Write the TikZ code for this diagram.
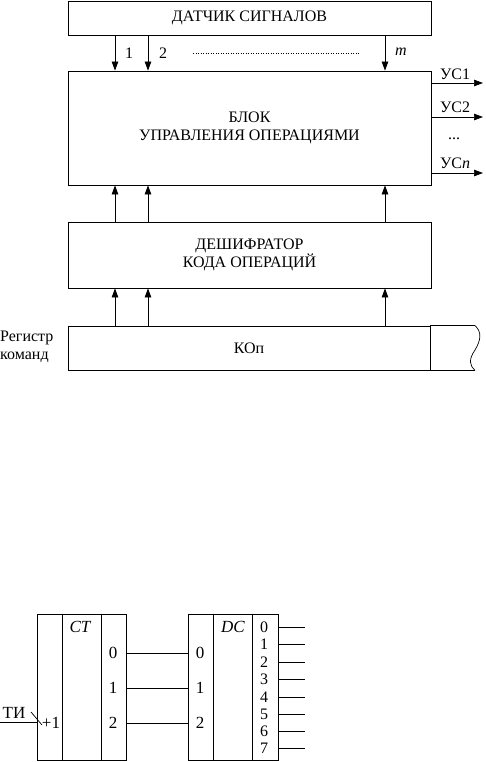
\documentclass[tikz,border=0pt]{standalone}
\usepackage{fontspec}
\setmainfont{Liberation Serif}
\usetikzlibrary{arrows.meta,calc}
\begin{document}
\begin{tikzpicture}[x=1pt,y=1pt,
  box/.style={draw,line width=0.8pt,inner sep=0pt,align=center,font=\fontsize{16}{18}\selectfont},
  arr/.style={line width=0.7pt,-{Triangle[length=9pt,width=6.5pt]}},
  ln/.style={line width=0.7pt},
  lbl/.style={inner sep=0pt,font=\fontsize{16}{18}\selectfont},
  big/.style={inner sep=0pt,font=\fontsize{17}{19}\selectfont},
  mid/.style={inner sep=0pt,font=\fontsize{16}{18}\selectfont}]
\useasboundingbox (0,0) rectangle (485,-762);
% top block
\node[box,minimum width=363pt,minimum height=34pt] (ds) at (249.5,-18) {ДАТЧИК СИГНАЛОВ};
\node[box,minimum width=363pt,minimum height=114pt] (bl) at (249.5,-128) {БЛОК\\УПРАВЛЕНИЯ ОПЕРАЦИЯМИ};
\node[box,minimum width=363pt,minimum height=66pt] (dc) at (249.5,-255) {ДЕШИФРАТОР\\КОДА ОПЕРАЦИЙ};
\node[box,minimum width=362pt,minimum height=44pt] (rg) at (249,-348) {КОп};
\coordinate (c1) at (115,0);
\coordinate (c2) at (148,0);
\coordinate (c3) at (385,0);
\foreach \c in {c1,c2,c3}{
  \draw[arr] (ds.south -| \c) -- (bl.north -| \c);
  \draw[arr] (dc.north -| \c) -- (bl.south -| \c);
  \draw[arr] (rg.north -| \c) -- (dc.south -| \c);
}
\node[lbl] (n1) at (129,-53) {1};
\node[lbl] (n2) at (163,-53) {2};
\node[lbl] (nm) at (401,-52) {\itshape m};
\coordinate (d1) at (193,-53);
\coordinate (d2) at (360,-53);
\draw[line width=0.9pt,dash pattern=on 0.9pt off 1.6pt] (d1) -- (d2);
% outputs
\coordinate (o1) at (483,-83);
\coordinate (o2) at (483,-117);
\coordinate (o3) at (483,-173);
\draw[arr] (bl.east |- o1) -- (o1);
\draw[arr] (bl.east |- o2) -- (o2);
\draw[arr] (bl.east |- o3) -- (o3);
\node[lbl] (u1) at (455,-74) {УС1};
\node[lbl] (u2) at (455,-107) {УС2};
\node[lbl] (ud) at (454,-139) {...};
\node[lbl] (un) at (455,-163) {УС\textit{n}};
% register extension
\coordinate (re) at (475,0);
\draw[ln] (rg.north east) -- (rg.north east -| re);
\draw[ln] (rg.south east) -- (rg.south east -| re);
\draw[ln] (rg.north east -| re) .. controls (482,-332) and (481,-340) .. (475,-350) .. controls (468,-360) and (470,-366) .. (rg.south east -| re);
\node[lbl,align=left,anchor=west] (rl) at (0,-347) {Регистр\\команд};
% bottom figure
\node[draw,line width=0.8pt,minimum width=89pt,minimum height=146pt,inner sep=0pt] (ct) at (81.5,-687) {};
\node[draw,line width=0.8pt,minimum width=90pt,minimum height=146pt,inner sep=0pt] (dd) at (233,-687) {};
\coordinate (v1) at (62,0);
\coordinate (v2) at (101,0);
\coordinate (v3) at (213,0);
\coordinate (v4) at (252,0);
\draw[ln] (ct.north -| v1) -- (ct.south -| v1);
\draw[ln] (ct.north -| v2) -- (ct.south -| v2);
\draw[ln] (dd.north -| v3) -- (dd.south -| v3);
\draw[ln] (dd.north -| v4) -- (dd.south -| v4);
\node[big] (ctl) at (80,-627) {\itshape CT};
\node[big] (dcl) at (233,-627) {\itshape DC};
\foreach \i/\y in {0/653,1/688,2/723}{
  \coordinate (h\i) at (0,-\y);
  \draw[ln] (ct.east |- h\i) -- (dd.west |- h\i);
  \node[big] at (113,-\y) {\i};
  \node[big] at (200,-\y) {\i};
}
\foreach \i/\y in {0/627,1/644,2/662,3/679,4/697,5/714,6/731,7/748}{
  \coordinate (q\i) at (305,-\y);
  \draw[ln] (dd.east |- q\i) -- (q\i);
  \node[mid] at (264,-\y) {\i};
}
\coordinate (ti) at (0,-722);
\draw[ln] (ti) -- (ct.west |- ti);
\draw[ln] (31,-712) -- (42,-725);
\node[big] (til) at (14,-713) {ТИ};
\node[big] (p1) at (51,-723) {+1};
\end{tikzpicture}
\end{document}
